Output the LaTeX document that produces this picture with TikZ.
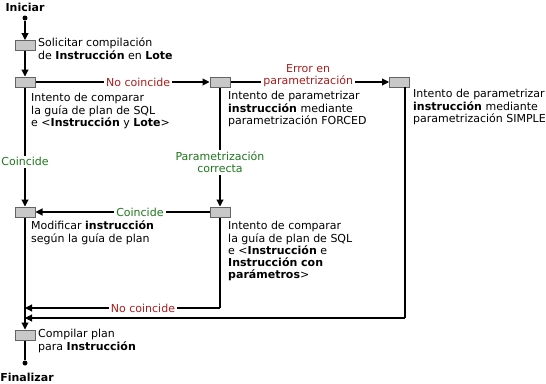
\documentclass[tikz,border=0pt]{standalone}
\usepackage{fontspec}
\setmainfont{DejaVu Sans}
\usetikzlibrary{arrows.meta,calc}
\definecolor{nored}{RGB}{170,30,30}
\definecolor{okgreen}{RGB}{30,120,30}
\definecolor{boxfill}{RGB}{200,200,200}
\definecolor{boxedge}{RGB}{100,100,100}
\begin{document}
\begin{tikzpicture}[x=1pt,y=-1pt,
  box/.style={draw=boxedge,fill=boxfill,line width=1pt,minimum width=20pt,minimum height=10pt,inner sep=0pt},
  lbl/.style={anchor=north west,align=left,inner sep=0pt,font=\fontsize{11}{12}\selectfont},
  flow/.style={line width=1.1pt,-{Triangle[length=7pt,width=7pt]}},
  plain/.style={line width=1.1pt},
  redlbl/.style={fill=white,text=nored,font=\fontsize{11}{12}\selectfont,inner sep=2pt,align=center},
  grnlbl/.style={fill=white,text=okgreen,font=\fontsize{11}{12}\selectfont,inner sep=2pt,align=center},
  term/.style={font=\bfseries\fontsize{11}{12}\selectfont,inner sep=0pt},
  dot/.style={circle,fill=black,minimum size=5pt,inner sep=0pt}]
\useasboundingbox (0,0) rectangle (546,383);
% terminals
\node[term] (tstart) at (25,7) {Iniciar};
\node[dot] (dstart) at (25,18) {};
\node[dot] (dend) at (25,363) {};
\node[term] (tend) at (27,377) {Finalizar};
% boxes
\node[box] (b1) at (25,45.5) {};
\node[box] (b2) at (25,82) {};
\node[box] (b3) at (220,82) {};
\node[box] (b4) at (399.5,82) {};
\node[box] (b5) at (25,212) {};
\node[box] (b6) at (220,212) {};
\node[box] (b7) at (25,335) {};
% labels
\node[lbl] (l1) at (38,37.6) {\strut Solicitar compilación\\de \textbf{Instrucción} en \textbf{Lote}};
\node[lbl] (l2) at (31,92.6) {\strut Intento de comparar\\la guía de plan de SQL\\e <\textbf{Instrucción} y \textbf{Lote}>};
\node[lbl] (l3) at (228,90.6) {\strut Intento de parametrizar\\\textbf{instrucción} mediante\\parametrización FORCED};
\node[lbl] (l4) at (413,88.6) {\strut Intento de parametrizar\\\textbf{instrucción} mediante\\parametrización SIMPLE};
\node[lbl] (l5) at (31,220.6) {\strut Modificar \textbf{instrucción}\\según la guía de plan};
\node[lbl] (l6) at (228,220.6) {\strut Intento de comparar\\la guía de plan de SQL\\e <\textbf{Instrucción} e\\\textbf{Instrucción con}\\\textbf{parámetros}>};
\node[lbl] (l7) at (38,328.6) {\strut Compilar plan\\para \textbf{Instrucción}};
% coordinates
\coordinate (c6a) at (220,308);
\coordinate (c6b) at (25,308);
\coordinate (c4t) at (405,87);
\coordinate (c4a) at (405,318);
\coordinate (c4b) at (25,318);
% connectors
\draw[flow] (dstart) -- (b1);
\draw[flow] (b1) -- (b2);
\draw[flow] (b2) -- (b3) node[redlbl,pos=0.59] (e1) {No coincide};
\draw[flow] (b3) -- (b4) node[redlbl,pos=0.49,yshift=6pt] (e2) {Error en\\parametrización};
\draw[flow] (b2) -- (b5) node[grnlbl,pos=0.625] (e3) {Coincide};
\draw[flow] (b3) -- (b6) node[grnlbl,pos=0.63] (e4) {Parametrización\\correcta};
\draw[flow] (b6) -- (b5) node[grnlbl,pos=0.4] (e5) {Coincide};
\draw[flow] (b5) -- (b7);
\draw[plain] (b6) -- (c6a);
\draw[flow] (c6a) -- (c6b) node[redlbl,pos=0.395] (e6) {No coincide};
\draw[plain] (c4t) -- (c4a);
\draw[flow] (c4a) -- (c4b);
\draw[plain] (b7) -- (dend);
\end{tikzpicture}
\end{document}
